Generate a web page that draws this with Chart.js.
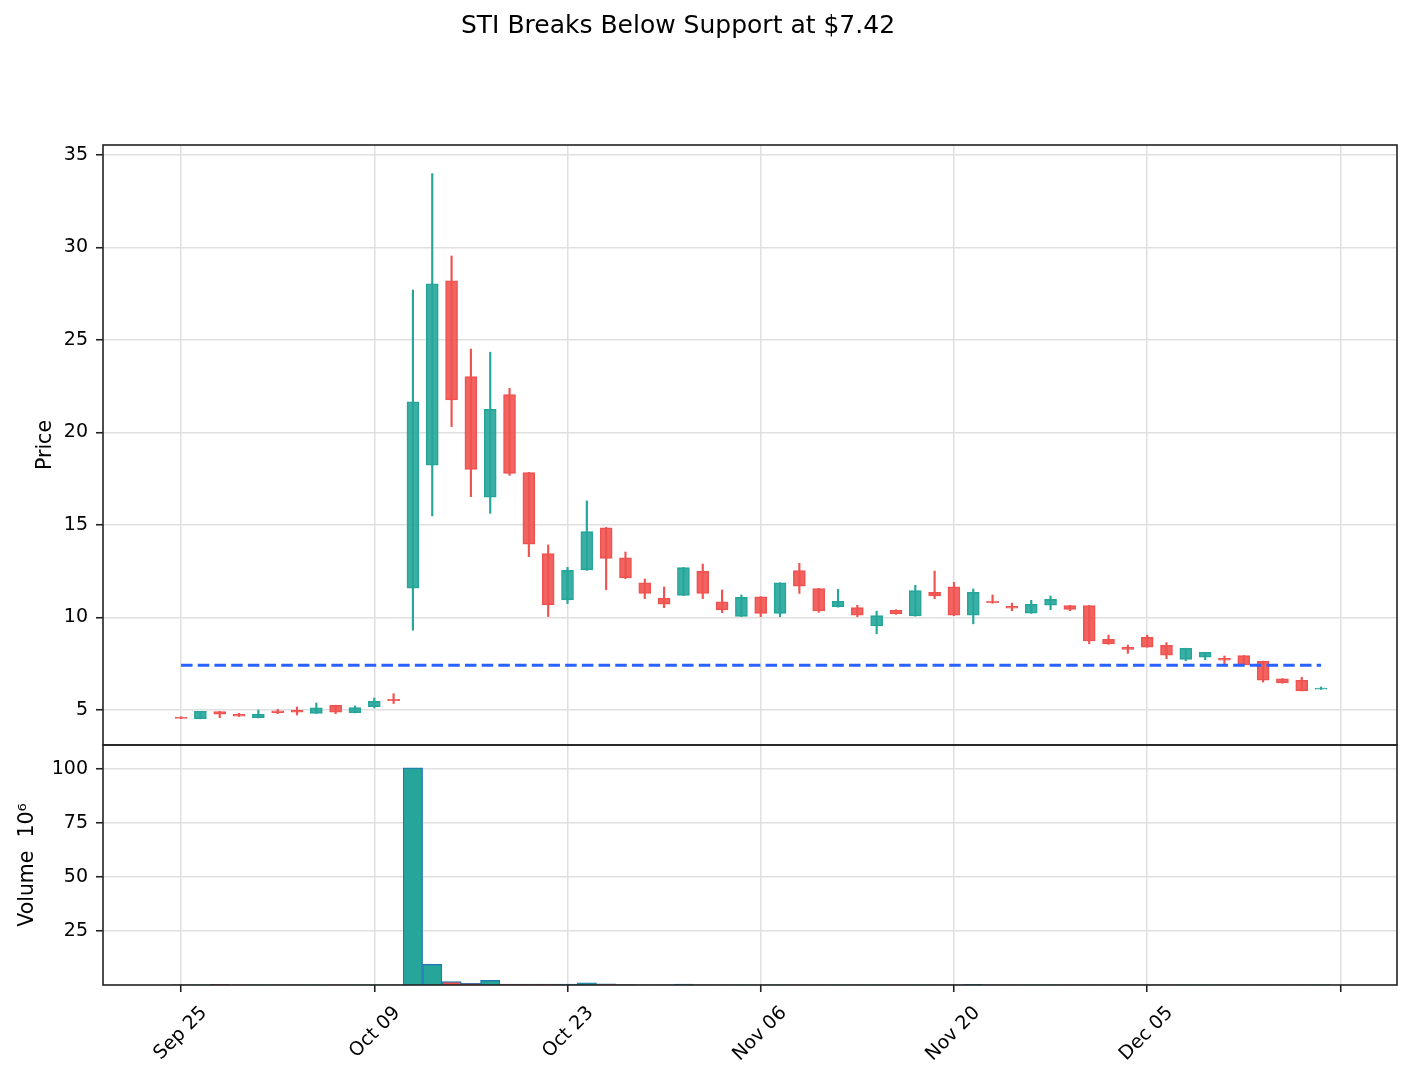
<!DOCTYPE html>
<html>
<head>
<meta charset="utf-8">
<script src="https://cdn.jsdelivr.net/npm/chart.js@4.4.1/dist/chart.umd.min.js"></script>
<style>
  html, body { margin: 0; padding: 0; background: #ffffff; }
  canvas { display: block; }
</style>
</head>
<body>
<canvas id="c" width="1413" height="1082"></canvas>
<script>
// ---------------- data ----------------
const titleText = 'STI Breaks Below Support at $7.42';
const supportLevel = 7.42;

const opens  = [4.62, 4.53, 4.92, 4.77, 4.58, 4.96, 5.00, 4.82, 5.25, 4.85,
                5.18, 5.58, 11.59, 18.24, 28.20, 23.02, 16.50, 22.05, 17.83, 13.45,
                10.95, 12.57, 14.85, 13.23, 11.88, 11.04, 11.20, 12.49, 10.85, 10.06,
                11.12, 10.22, 12.53, 11.56, 10.57, 10.53, 9.54, 10.39, 10.08, 11.36,
                11.66, 10.12, 10.89, 10.60, 10.23, 10.66, 10.64, 10.64, 8.82, 8.39,
                8.93, 8.50, 7.74, 7.85, 7.79, 7.94, 7.63, 6.69, 6.61, 6.12];
const highs  = [4.64, 4.93, 4.93, 4.82, 5.00, 5.04, 5.16, 5.38, 5.26, 5.22,
                5.65, 5.88, 27.70, 34.00, 29.54, 24.51, 24.34, 22.39, 17.85, 13.92,
                12.71, 16.30, 14.87, 13.54, 12.08, 11.65, 12.71, 12.89, 11.49, 11.22,
                11.13, 11.88, 12.93, 11.57, 11.52, 10.66, 10.34, 10.42, 11.74, 12.51,
                11.90, 11.54, 11.22, 10.78, 10.93, 11.16, 10.66, 10.65, 9.05, 8.51,
                9.05, 8.64, 8.34, 8.12, 7.92, 7.95, 7.64, 6.70, 6.77, 6.24];
const lows   = [4.53, 4.52, 4.58, 4.65, 4.57, 4.80, 4.73, 4.81, 4.80, 4.84,
                5.11, 5.35, 9.32, 15.49, 20.32, 16.53, 15.63, 17.68, 13.29, 10.05,
                10.75, 12.55, 11.50, 12.10, 11.02, 10.53, 11.19, 11.02, 10.26, 10.05,
                10.04, 10.04, 11.30, 10.28, 10.56, 10.04, 9.12, 10.17, 10.07, 11.02,
                10.10, 9.66, 10.77, 10.37, 10.22, 10.42, 10.37, 8.58, 8.55, 8.06,
                8.39, 7.77, 7.66, 7.72, 7.47, 7.43, 6.51, 6.45, 6.03, 6.11];
const closes = [4.55, 4.93, 4.77, 4.66, 4.77, 4.86, 4.88, 5.12, 4.88, 5.13,
                5.47, 5.50, 21.66, 28.04, 21.76, 18.01, 21.25, 17.79, 13.97, 10.68,
                12.55, 14.64, 13.20, 12.14, 11.30, 10.72, 12.70, 11.30, 10.41, 11.09,
                10.22, 11.88, 11.70, 10.35, 10.88, 10.12, 10.10, 10.19, 11.45, 11.16,
                10.12, 11.36, 10.80, 10.50, 10.71, 10.98, 10.44, 8.73, 8.57, 8.28,
                8.40, 7.96, 8.34, 8.12, 7.69, 7.43, 6.61, 6.46, 6.03, 6.19];
// volume in millions
const volumes = [0.10, 0.08, 0.35, 0.08, 0.08, 0.08, 0.08, 0.08, 0.08, 0.08,
                 0.10, 0.10, 100.5, 9.6, 1.6, 0.8, 2.2, 0.4, 0.4, 0.4,
                 0.4, 1.0, 0.5, 0.15, 0.12, 0.12, 0.4, 0.12, 0.10, 0.10,
                 0.10, 0.10, 0.10, 0.10, 0.08, 0.08, 0.08, 0.08, 0.10, 0.10,
                 0.10, 0.3, 0.08, 0.08, 0.08, 0.08, 0.08, 0.10, 0.08, 0.08,
                 0.08, 0.08, 0.08, 0.08, 0.08, 0.08, 0.08, 0.08, 0.08, 0.08];

const xTickIndex  = [0, 10, 20, 30, 40, 50, 60];
const xTickLabels = ['Sep 25', 'Oct 09', 'Oct 23', 'Nov 06', 'Nov 20', 'Dec 05', ''];
const priceTicks  = [5, 10, 15, 20, 25, 30, 35];
const volumeTicks = [25, 50, 75, 100];

// ---------------- styling ----------------
const FONT = "'DejaVu Sans', 'Liberation Sans', sans-serif";
const UP = 'rgba(38,166,154,1)', UP_FILL = 'rgba(38,166,154,0.9)';
const DN = 'rgba(239,83,80,1)',  DN_FILL = 'rgba(239,83,80,0.9)';
const GRID = '#e0e0e0', AXIS = '#222222';
const isUp = i => closes[i] >= opens[i];

Chart.defaults.font.family = FONT;
Chart.defaults.color = '#000';

const bodyData   = opens.map((o, i) => ({ x: i, y: [o, closes[i]] }));
const wickData   = lows.map((l, i) => ({ x: i, y: [l, highs[i]] }));
const volumeData = volumes.map((v, i) => ({ x: i, y: v }));
const supportData = [{ x: 0, y: supportLevel }, { x: opens.length - 1, y: supportLevel }];

const framePlugin = {
  id: 'frames',
  afterDatasetsDraw(chart) {
    const { ctx, chartArea } = chart;
    ctx.save();
    ctx.strokeStyle = AXIS;
    ctx.lineWidth = 1.6;
    ['y', 'yv'].forEach(id => {
      const s = chart.scales[id];
      ctx.strokeRect(chartArea.left, s.top, chartArea.right - chartArea.left, s.bottom - s.top);
    });
    ctx.restore();
  }
};
const titlePlugin = {
  id: 'figTitle',
  afterDraw(chart) {
    const ctx = chart.ctx;
    ctx.save();
    ctx.font = '25px ' + FONT;
    ctx.fillStyle = '#000';
    ctx.textAlign = 'center';
    ctx.textBaseline = 'middle';
    ctx.fillText(titleText, 678, 26);
    ctx.restore();
  }
};

const tickFont = { family: FONT, size: 19 };
const titleFont = { family: FONT, size: 20.5 };

new Chart(document.getElementById('c'), {
  type: 'bar',
  data: {
    datasets: [
      {
        type: 'line', label: 'Support', data: supportData, xAxisID: 'x', yAxisID: 'y',
        borderColor: '#2962ff', borderWidth: 3, borderDash: [11.5, 5.2],
        pointRadius: 0, fill: false, order: 0
      },
      {
        label: 'Body', data: bodyData, xAxisID: 'x', yAxisID: 'y', grouped: false,
        barThickness: 12, borderWidth: 1, borderSkipped: false,
        backgroundColor: ctx => isUp(ctx.dataIndex) ? UP_FILL : DN_FILL,
        borderColor: ctx => isUp(ctx.dataIndex) ? UP : DN,
        order: 1
      },
      {
        label: 'Wick', data: wickData, xAxisID: 'x', yAxisID: 'y', grouped: false,
        barThickness: 1.5, borderWidth: 0,
        backgroundColor: ctx => isUp(ctx.dataIndex) ? UP : DN,
        order: 2
      },
      {
        label: 'Volume', data: volumeData, xAxisID: 'x', yAxisID: 'yv', grouped: false,
        barPercentage: 1, categoryPercentage: 1, borderWidth: 1.3,
        backgroundColor: ctx => isUp(ctx.dataIndex) ? '#26a69a' : '#ef5350',
        borderColor: '#1f77b4',
        order: 3
      }
    ]
  },
  options: {
    responsive: false,
    animation: false,
    devicePixelRatio: 1,
    layout: { padding: { left: 0, right: 16, top: 145, bottom: 0 } },
    plugins: { legend: { display: false }, tooltip: { enabled: false }, title: { display: false } },
    scales: {
      x: {
        type: 'linear', position: 'bottom', min: -4.04, max: 62.93, offset: false,
        grid: { offset: false, color: GRID, lineWidth: 1.5, drawTicks: true, tickLength: 7, tickColor: AXIS, tickWidth: 1.6 },
        border: { display: false },
        ticks: {
          autoSkip: false, minRotation: 45, maxRotation: 45, labelOffset: 23, padding: 10,
          font: tickFont, color: '#000',
          callback: (v) => { const k = xTickIndex.indexOf(v); return k >= 0 ? xTickLabels[k] : ''; }
        },
        afterBuildTicks: s => { s.ticks = xTickIndex.map(v => ({ value: v })); },
        afterFit: s => { s.height = 97; }
      },
      y: {
        type: 'linear', position: 'left', stack: 'panels', stackWeight: 2.5, weight: 2,
        min: 3.108, max: 35.54,
        grid: { color: GRID, lineWidth: 1.5, drawTicks: true, tickLength: 7, tickColor: AXIS, tickWidth: 1.6 },
        border: { display: false },
        ticks: { font: tickFont, color: '#000', padding: 8, callback: v => String(v) },
        title: { display: true, text: 'Price', font: titleFont, color: '#000', padding: { top: 33, bottom: 0 } },
        afterBuildTicks: s => { s.ticks = priceTicks.map(v => ({ value: v })); },
        afterFit: s => { s.width = 103; }
      },
      yv: {
        type: 'linear', position: 'left', stack: 'panels', stackWeight: 1, weight: 1,
        min: 0, max: 111.1,
        grid: { color: GRID, lineWidth: 1.5, drawTicks: true, tickLength: 7, tickColor: AXIS, tickWidth: 1.6 },
        border: { display: false },
        ticks: { font: tickFont, color: '#000', padding: 8, callback: v => String(v) },
        title: { display: true, text: 'Volume  10\u2076', font: titleFont, color: '#000', padding: { top: 15, bottom: 0 } },
        afterBuildTicks: s => { s.ticks = volumeTicks.map(v => ({ value: v })); },
        afterFit: s => { s.width = 103; }
      }
    }
  },
  plugins: [framePlugin, titlePlugin]
});
</script>
</body>
</html>
